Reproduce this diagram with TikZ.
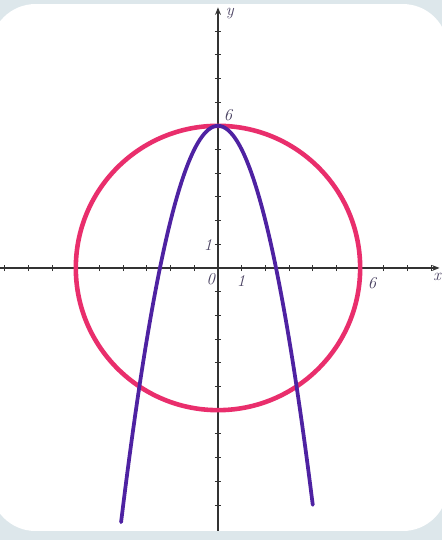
\documentclass[tikz,border=0pt]{standalone}
\usepackage{xcolor}
\usetikzlibrary{arrows.meta,calc,positioning}
\definecolor{circpink}{HTML}{E92E6C}
\definecolor{parpurple}{HTML}{4E22A2}
\definecolor{labgray}{HTML}{4A4262}
\definecolor{bggray}{HTML}{DDE7EB}
\tikzset{
  axis/.style={line width=1.6pt,black!80,-{Stealth[length=9pt,width=7pt]}},
  tick/.style={line width=1pt,black!80},
  lab/.style={font=\fontsize{20}{22}\selectfont\itshape,text=labgray,inner sep=1pt}
}
\begin{document}
\begin{tikzpicture}[>=Stealth]
% frame
\useasboundingbox (-9.2,-11.48) rectangle (9.45,11.31);
\fill[bggray] (-9.2,-11.48) rectangle (9.45,11.31);
\fill[white,rounded corners=1.9cm] (-9.6,-11.1) rectangle (9.7,11.14);
\coordinate (O) at (0,0);
% axes
\draw[axis] (-9.2,0)--(9.35,0) coordinate (xend);
\draw[axis] (0,-11.1)--(0,11.0) coordinate (yend);
\foreach \i in {-9,...,-1,1,2,...,9} \draw[tick] (\i,-0.13)--(\i,0.13);
\foreach \i in {-10,...,-1,1,2,...,10} \draw[tick] (-0.13,\i)--(0.13,\i);
% curves
\draw[circpink,line width=5.5pt] (O) circle (6);
\draw[parpurple,line width=4.5pt,line cap=round] plot[domain=-4.09:4.0,samples=80,smooth] (\x,{6-\x*\x});
% labels
\node[lab] (ylab) at (0.5,10.75) {y};
\node[lab] (xlab) at (9.25,-0.36) {x};
\node[lab] (six1) at (0.42,6.45) {6};
\node[lab] (six2) at (6.5,-0.62) {6};
\node[lab] (one1) at (-0.42,0.97) {1};
\node[lab] (one2) at (0.97,-0.55) {1};
\node[lab] (zero) at (-0.3,-0.46) {0};
\end{tikzpicture}
\end{document}
